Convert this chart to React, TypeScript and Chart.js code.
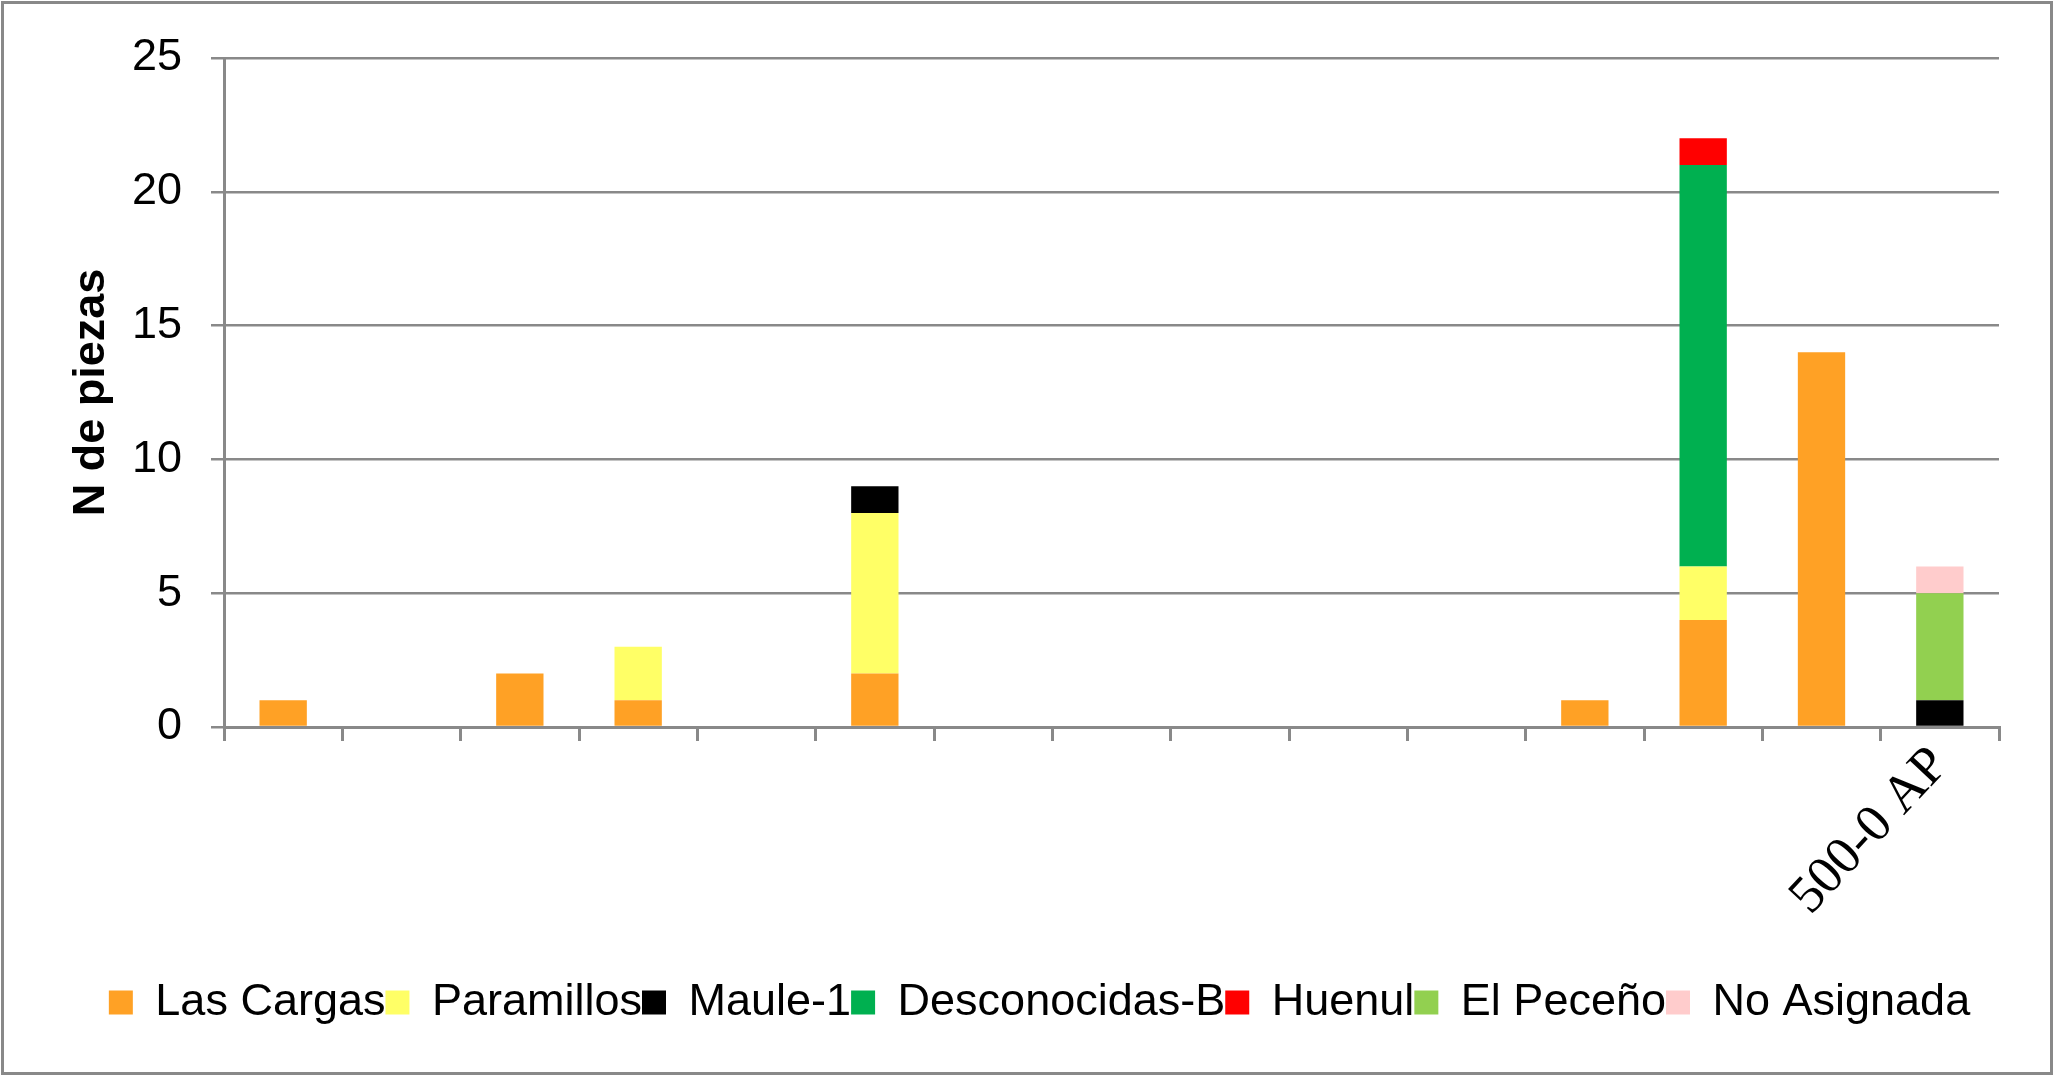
import React, { useEffect, useRef } from "react";
import { Chart, registerables } from "chart.js";

Chart.register(...registerables);

const categories: string[] = ["", "", "", "", "", "", "", "", "", "", "", "", "", "", "500-0 AP"];

const lasCargas = [1, 0, 2, 1, 0, 2, 0, 0, 0, 0, 0, 1, 4, 14, 0];
const paramillos = [0, 0, 0, 2, 0, 6, 0, 0, 0, 0, 0, 0, 2, 0, 0];
const maule1 = [0, 0, 0, 0, 0, 1, 0, 0, 0, 0, 0, 0, 0, 0, 1];
const desconocidasB = [0, 0, 0, 0, 0, 0, 0, 0, 0, 0, 0, 0, 15, 0, 0];
const huenul = [0, 0, 0, 0, 0, 0, 0, 0, 0, 0, 0, 0, 1, 0, 0];
const elPeceno = [0, 0, 0, 0, 0, 0, 0, 0, 0, 0, 0, 0, 0, 0, 4];
const noAsignada = [0, 0, 0, 0, 0, 0, 0, 0, 0, 0, 0, 0, 0, 0, 1];

const seriesNames = ["Las Cargas", "Paramillos", "Maule-1", "Desconocidas-B", "Huenul", "El Peceño", "No Asignada"];
const seriesColors = ["#FFA125", "#FFFF66", "#000000", "#00B050", "#FF0000", "#92D050", "#FFCCCC"];
const seriesValues = [lasCargas, paramillos, maule1, desconocidasB, huenul, elPeceno, noAsignada];

const yTicks = [0, 5, 10, 15, 20, 25];

const GRAY = "#898989";
const SANS = "'Liberation Sans', Arial, sans-serif";
const SERIF = "'Liberation Serif', 'Times New Roman', serif";

export default function App() {
  const canvasRef = useRef<HTMLCanvasElement | null>(null);

  useEffect(() => {
    document.body.style.margin = "0";
    const canvas = canvasRef.current;
    if (!canvas) return;
    const chart = new Chart(canvas, {
      type: "bar",
      data: {
        labels: categories,
        datasets: seriesNames.map((name, i) => ({
          label: name,
          data: seriesValues[i],
          backgroundColor: seriesColors[i],
          borderWidth: 0,
          categoryPercentage: 1,
          barPercentage: 0.4,
        })),
      },
      options: {
        responsive: false,
        animation: false,
        devicePixelRatio: 1,
        layout: { padding: { left: 80, right: 57, top: 58, bottom: 43 } },
        plugins: {
          tooltip: { enabled: false },
          title: { display: false },
          legend: {
            position: "bottom",
            labels: {
              boxWidth: 24,
              boxHeight: 24,
              padding: 0,
              color: "#000",
              font: { family: SANS, size: 45 },
            },
          },
        },
        scales: {
          x: {
            stacked: true,
            afterFit: (scale: any) => {
              scale.height = 253;
            },
            grid: {
              display: true,
              drawOnChartArea: false,
              drawTicks: true,
              tickLength: 14,
              tickColor: GRAY,
              tickWidth: 3,
              color: GRAY,
              lineWidth: 3,
              offset: true,
            },
            border: { display: true, color: GRAY, width: 3 },
            ticks: {
              autoSkip: false,
              minRotation: 47,
              maxRotation: 47,
              padding: -6,
              color: "#000",
              font: { family: SERIF, size: 53 },
            },
          },
          y: {
            stacked: true,
            min: 0,
            max: 25,
            afterFit: (scale: any) => {
              scale.width = 144;
            },
            afterBuildTicks: (scale: any) => {
              scale.ticks = yTicks.map((v) => ({ value: v }));
            },
            grid: {
              display: true,
              drawTicks: true,
              tickLength: 13,
              color: GRAY,
              lineWidth: 2.5,
              tickColor: GRAY,
              tickWidth: 2.5,
            },
            border: { display: true, color: GRAY, width: 3 },
            ticks: {
              stepSize: 5,
              padding: 29,
              color: "#000",
              font: { family: SANS, size: 45 },
            },
            title: {
              display: true,
              text: "N de piezas",
              color: "#000",
              font: { family: SANS, size: 45, weight: "bold" },
              padding: { top: -15, bottom: 0 },
            },
          },
        },
      },
    });
    return () => chart.destroy();
  }, []);

  return (
    <div style={{ position: "relative", width: 2056, height: 1078, background: "#fff" }}>
      <canvas ref={canvasRef} width={2056} height={1078} style={{ display: "block", width: 2056, height: 1078 }} />
      <div
        style={{
          position: "absolute",
          left: 1,
          top: 1,
          width: 2052,
          height: 1074,
          border: `3px solid ${GRAY}`,
          boxSizing: "border-box",
          pointerEvents: "none",
        }}
      />
    </div>
  );
}
